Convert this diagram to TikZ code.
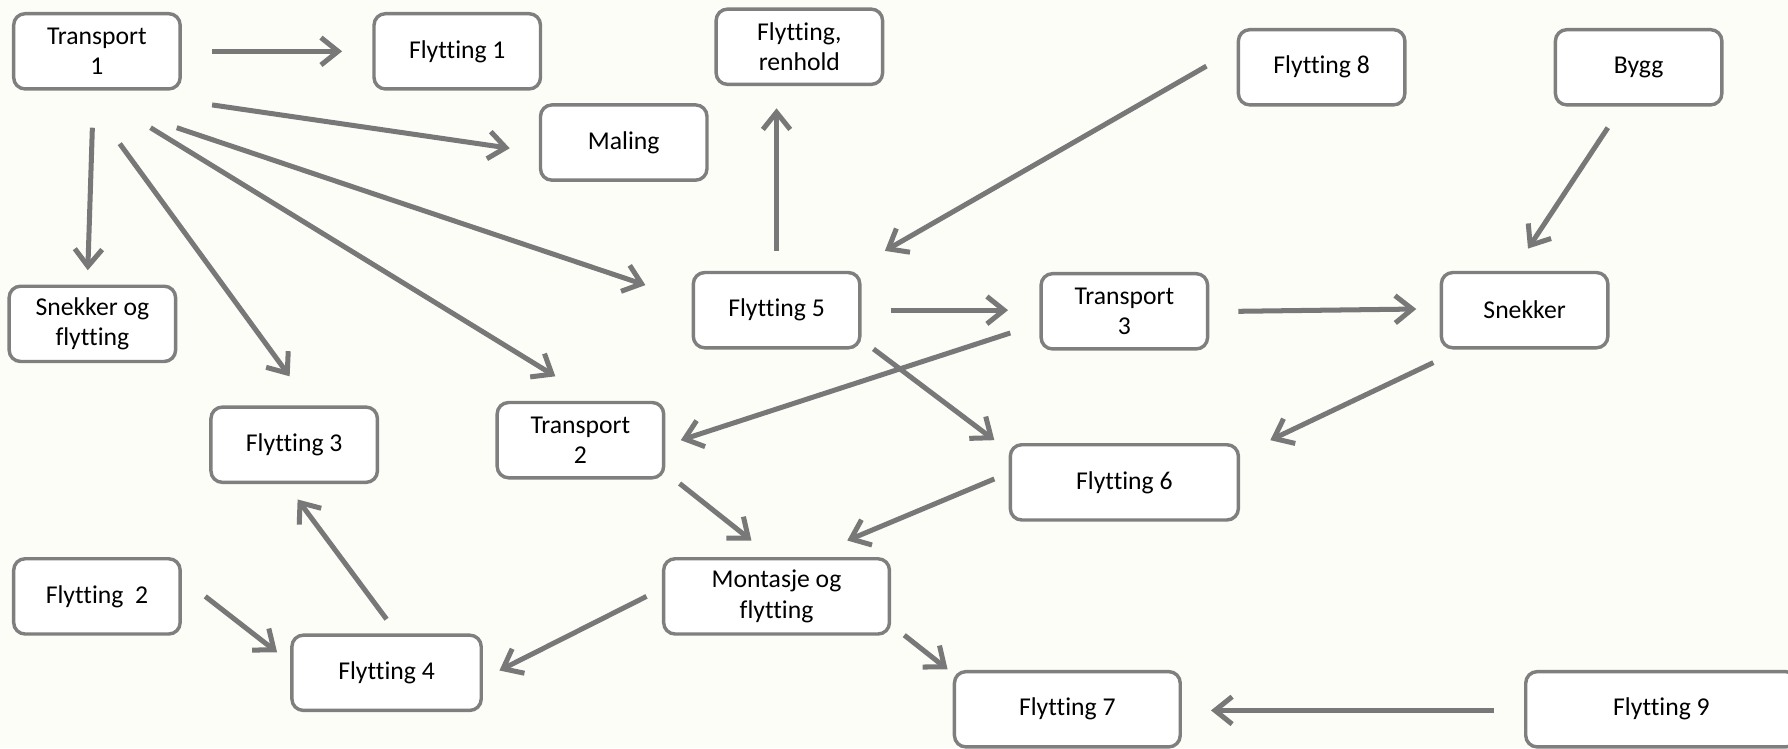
\documentclass[tikz,border=0pt]{standalone}
\usepackage{fontspec}
\setmainfont{Carlito}[Ligatures={NoCommon}]
\usetikzlibrary{arrows.meta}
\definecolor{bg}{HTML}{FDFDF8}
\definecolor{boxline}{HTML}{7F7F7F}
\definecolor{arrcol}{HTML}{787878}
\tikzset{
  box/.style={draw=boxline, line width=3pt, fill=white, rounded corners=10pt,
    minimum width=146pt, minimum height=66pt, align=center, inner sep=0pt,
    font=\fontsize{22.5}{27}\selectfont},
  arr/.style={draw=arrcol, line width=4.4pt, -{Straight Barb[length=15pt,width=24pt]}}
}
\begin{document}
\begin{tikzpicture}[x=1pt,y=-1pt]
\useasboundingbox (0,0) rectangle (1568,656);
\fill[bg] (0,0) rectangle (1568,656);
% nodes
\node[box] (t1) at (85,45) {Transport\\1};
\node[box] (f1) at (401,45) {Flytting 1};
\node[box] (fr) at (701,41) {Flytting,\\renhold};
\node[box] (mal) at (547,125) {Maling};
\node[box] (f8) at (1159,59) {Flytting 8};
\node[box] (bygg) at (1437,59) {Bygg};
\node[box] (sof) at (81,284) {Snekker og\\flytting};
\node[box] (f5) at (681,272) {Flytting 5};
\node[box] (t3) at (986,273) {Transport\\3};
\node[box] (sn) at (1337,272) {Snekker};
\node[box] (f3) at (258,390) {Flytting 3};
\node[box] (t2) at (509,386) {Transport\\2};
\node[box, minimum width=200pt] (f6) at (986,423) {Flytting 6};
\node[box, minimum width=198pt] (mont) at (681,523) {Montasje og\\flytting};
\node[box] (f2) at (85,523) {Flytting\ \ 2};
\node[box, minimum width=166pt] (f4) at (339,590) {Flytting 4};
\node[box, minimum width=198pt] (f7) at (936,622) {Flytting 7};
\node[box, minimum width=238pt] (f9) at (1457,622) {Flytting 9};
% connectors
\draw[arr] ([shift={(101,0)}]t1.center) -- ([shift={(-101,0)}]f1.center);
\draw[arr] ([shift={(101,47)}]t1.center) -- ([shift={(-100,5)}]mal.center);
\draw[arr] ([shift={(70,67)}]t1.center) -- ([shift={(-115,-22)}]f5.center);
\draw[arr] ([shift={(47,67)}]t1.center) -- ([shift={(-22,-56)}]t2.center);
\draw[arr] ([shift={(20,81)}]t1.center) -- ([shift={(-4,-60)}]f3.center);
\draw[arr] ([shift={(-4,67)}]t1.center) -- ([shift={(-4,-47)}]sof.center);
\draw[arr] ([shift={(0,-52)}]f5.center) -- ([shift={(-20,54)}]fr.center);
\draw[arr] ([shift={(-101,-1)}]f8.center) -- ([shift={(95,-52)}]f5.center);
\draw[arr] ([shift={(-27,53)}]bygg.center) -- ([shift={(3,-54)}]sn.center);
\draw[arr] ([shift={(100,0)}]f5.center) -- ([shift={(-102,-1)}]t3.center);
\draw[arr] ([shift={(100,0)}]t3.center) -- ([shift={(-95,-1)}]sn.center);
\draw[arr] ([shift={(85,34)}]f5.center) -- ([shift={(-114,-37)}]f6.center);
\draw[arr] ([shift={(-100,19)}]t3.center) -- ([shift={(88,0)}]t2.center);
\draw[arr] ([shift={(-80,46)}]sn.center) -- ([shift={(128,-37)}]f6.center);
\draw[arr] ([shift={(87,38)}]t2.center) -- ([shift={(-22,-49)}]mont.center);
\draw[arr] ([shift={(-114,-3)}]f6.center) -- ([shift={(62,-49)}]mont.center);
\draw[arr] ([shift={(-114,0)}]mont.center) -- ([shift={(99,-2)}]f4.center);
\draw[arr] ([shift={(112,34)}]mont.center) -- ([shift={(-105,-35)}]f7.center);
\draw[arr] ([shift={(-147,1)}]f9.center) -- ([shift={(126,1)}]f7.center);
\draw[arr] ([shift={(95,0)}]f2.center) -- ([shift={(-96,-18)}]f4.center);
\draw[arr] ([shift={(0,-47)}]f4.center) -- ([shift={(3,48)}]f3.center);
\end{tikzpicture}
\end{document}
